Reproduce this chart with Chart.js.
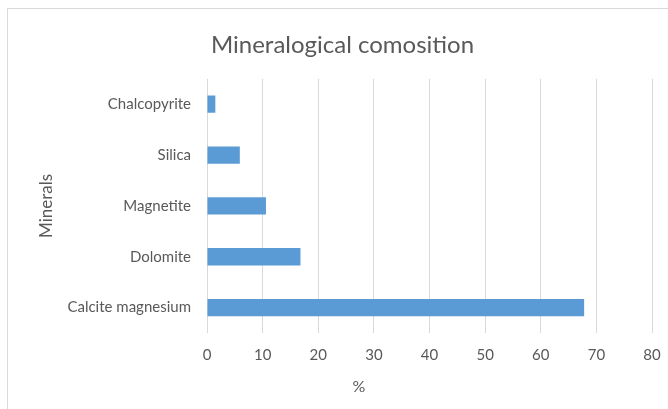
<!DOCTYPE html>
<html>
<head>
<meta charset="utf-8">
<script src="https://cdn.jsdelivr.net/npm/chart.js@4.4.2/dist/chart.umd.min.js"></script>
<style>
  html, body { margin: 0; padding: 0; background: #fff; overflow: hidden; }
  #frame {
    position: absolute; left: 7px; top: 8px;
    width: 678px; height: 401px;
    border-top: 1px solid #d9d9d9; border-left: 1px solid #d9d9d9;
  }
  #chart { display: block; }
</style>
</head>
<body>
<div id="frame"><canvas id="chart" width="678" height="401"></canvas></div>
<script>
// data
const minerals = ['Chalcopyrite', 'Silica', 'Magnetite', 'Dolomite', 'Calcite magnesium'];
const percentValues = [1.5, 5.9, 10.6, 16.8, 67.8];
const xTicks = [0, 10, 20, 30, 40, 50, 60, 70, 80];

const FONT = 'Lato, "Open Sans", sans-serif';
const GREY = '#595959';

// Excel puts the x axis title left of the plot centre, so draw it by hand
const xTitlePlugin = {
  id: 'xTitle',
  afterDraw(chart) {
    const ctx = chart.ctx;
    const area = chart.chartArea;
    ctx.save();
    ctx.font = '16px ' + FONT;
    ctx.fillStyle = GREY;
    ctx.textAlign = 'center';
    ctx.textBaseline = 'middle';
    ctx.fillText('%', area.left + 152, area.bottom + 54);
    ctx.restore();
  }
};

new Chart(document.getElementById('chart'), {
  type: 'bar',
  data: {
    labels: minerals,
    datasets: [{
      label: '%',
      data: percentValues,
      backgroundColor: '#5b9bd5',
      borderWidth: 0,
      categoryPercentage: 1,
      barPercentage: 0.34
    }]
  },
  options: {
    indexAxis: 'y',
    responsive: false,
    animation: false,
    layout: { padding: { left: 25, right: 34, top: 0, bottom: 0 } },
    plugins: {
      legend: { display: false },
      tooltip: { enabled: false },
      title: {
        display: true,
        text: 'Mineralogical comosition',
        color: GREY,
        font: { family: FONT, size: 24, weight: 'normal' },
        padding: { top: 22, bottom: 19 }
      }
    },
    scales: {
      x: {
        min: 0,
        max: 80,
        afterBuildTicks(scale) {
          scale.ticks = xTicks.map(v => ({ value: v }));
        },
        afterFit(scale) { scale.height = 77; },
        grid: { color: '#d9d9d9', lineWidth: 1, drawTicks: false },
        border: { display: false },
        ticks: {
          color: GREY,
          padding: 13,
          font: { family: FONT, size: 15 }
        }
      },
      y: {
        afterFit(scale) { scale.width = 174; },
        grid: { display: false, drawTicks: false },
        border: { display: false },
        ticks: {
          color: GREY,
          padding: 16,
          font: { family: FONT, size: 15 }
        },
        title: {
          display: true,
          text: 'Minerals',
          color: GREY,
          font: { family: FONT, size: 17 },
          padding: { top: 3, bottom: 0 }
        }
      }
    }
  },
  plugins: [xTitlePlugin]
});
</script>
</body>
</html>
